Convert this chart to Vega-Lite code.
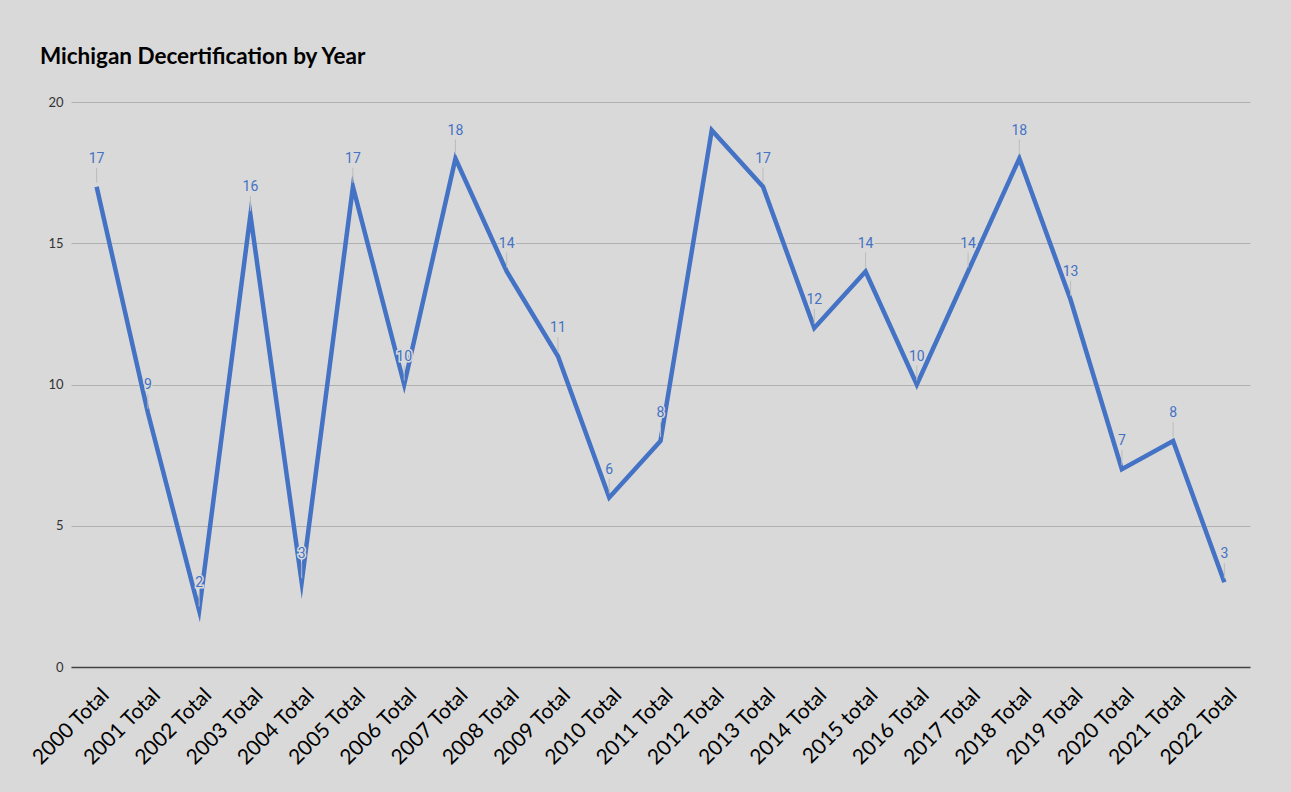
{
  "$schema": "https://vega.github.io/schema/vega-lite/v6.json",
  "width": 1179,
  "height": 565,
  "autosize": "none",
  "padding": {"left": 71, "top": 102, "right": 41, "bottom": 125},
  "background": "#d9d9d9",
  "title": {
    "text": "Michigan Decertification by Year",
    "anchor": "start",
    "dx": 12,
    "offset": 28,
    "font": "Lato",
    "fontSize": 22.5,
    "fontWeight": "bold",
    "color": "#000000"
  },
  "config": {
    "view": {"stroke": null},
    "axis": {"labelFont": "Lato"}
  },
  "data": {
    "values": [
      {"year": "2000 Total", "count": 17},
      {"year": "2001 Total", "count": 9},
      {"year": "2002 Total", "count": 2},
      {"year": "2003 Total", "count": 16},
      {"year": "2004 Total", "count": 3},
      {"year": "2005 Total", "count": 17},
      {"year": "2006 Total", "count": 10},
      {"year": "2007 Total", "count": 18},
      {"year": "2008 Total", "count": 14},
      {"year": "2009 Total", "count": 11},
      {"year": "2010 Total", "count": 6},
      {"year": "2011 Total", "count": 8},
      {"year": "2012 Total", "count": 19},
      {"year": "2013 Total", "count": 17},
      {"year": "2014 Total", "count": 12},
      {"year": "2015 total", "count": 14},
      {"year": "2016 Total", "count": 10},
      {"year": "2017 Total", "count": 14},
      {"year": "2018 Total", "count": 18},
      {"year": "2019 Total", "count": 13},
      {"year": "2020 Total", "count": 7},
      {"year": "2021 Total", "count": 8},
      {"year": "2022 Total", "count": 3}
    ]
  },
  "encoding": {
    "x": {
      "field": "year",
      "type": "ordinal",
      "sort": null,
      "scale": {"type": "point", "padding": 0.5},
      "axis": {
        "title": null,
        "labelAngle": -45,
        "labelFontSize": 21,
        "labelColor": "#000000",
        "labelOffset": 1,
        "labelPadding": 17,
        "ticks": false,
        "grid": false,
        "domain": true,
        "domainColor": "#444444",
        "domainWidth": 1.5
      }
    },
    "y": {
      "field": "count",
      "type": "quantitative",
      "scale": {"domain": [0, 20]},
      "axis": {
        "title": null,
        "values": [0, 5, 10, 15, 20],
        "labelFontSize": 13,
        "labelColor": "#333333",
        "labelPadding": 8,
        "ticks": false,
        "domain": false,
        "grid": true,
        "gridColor": "#b0b0b0",
        "gridWidth": 1.2
      }
    }
  },
  "layer": [
    {
      "mark": {"type": "line", "color": "#4472c4", "strokeWidth": 4.5, "strokeJoin": "miter", "strokeMiterLimit": 10}
    },
    {
      "transform": [{"filter": "datum.year !== '2012 Total'"}],
      "mark": {"type": "rule", "color": "#bcbcbc", "strokeWidth": 1, "yOffset": -4, "y2Offset": -19},
      "encoding": {"y2": {"field": "count"}}
    },
    {
      "transform": [{"filter": "datum.year !== '2012 Total'"}],
      "mark": {"type": "text", "dy": -28, "font": "Roboto", "fontSize": 14, "stroke": "#d9d9d9", "strokeWidth": 3, "fill": "#d9d9d9"},
      "encoding": {"text": {"field": "count", "type": "quantitative"}}
    },
    {
      "transform": [{"filter": "datum.year !== '2012 Total'"}],
      "mark": {"type": "text", "dy": -28, "font": "Roboto", "fontSize": 14, "fill": "#4472c4"},
      "encoding": {"text": {"field": "count", "type": "quantitative"}}
    }
  ]
}
